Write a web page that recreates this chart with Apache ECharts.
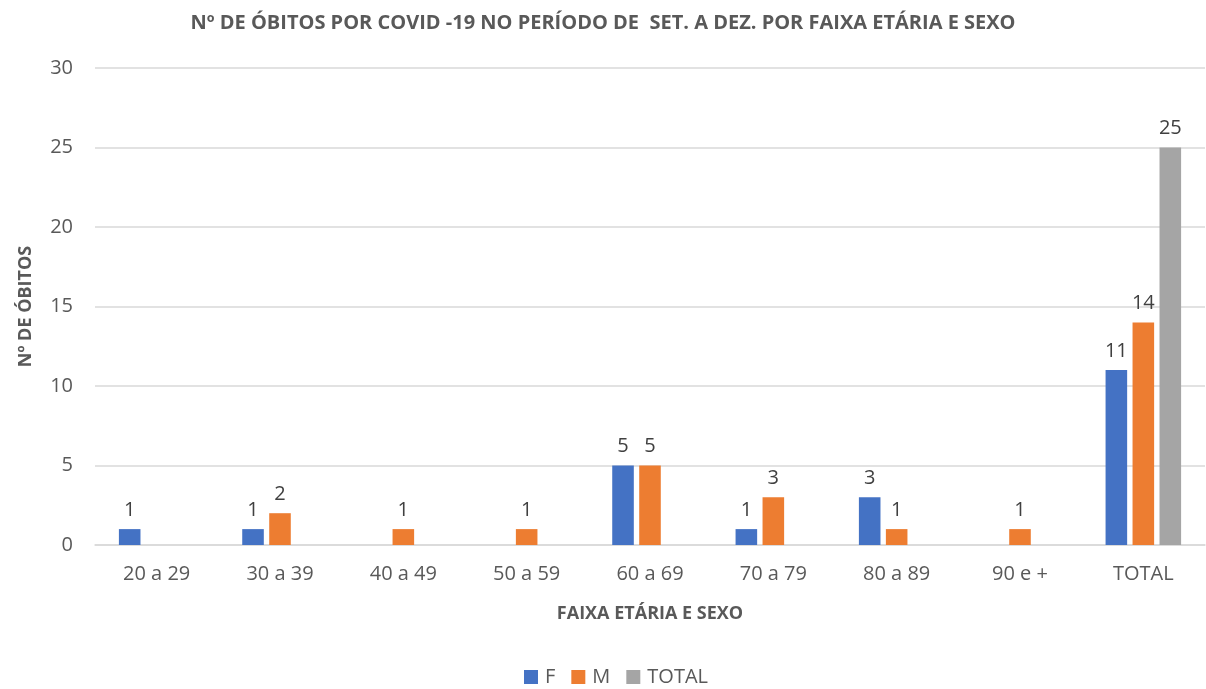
<!DOCTYPE html>
<html>
<head>
<meta charset="utf-8">
<script src="https://cdn.jsdelivr.net/npm/echarts@6/dist/echarts.min.js"></script>
<style>
  html, body { margin: 0; padding: 0; background: #fff; }
  #chart { width: 1206px; height: 689px; }
</style>
</head>
<body>
<div id="chart"></div>
<script>
const categories = ['20 a 29', '30 a 39', '40 a 49', '50 a 59', '60 a 69', '70 a 79', '80 a 89', '90 e +', 'TOTAL']
const femValues = [1, 1, null, null, 5, 1, 3, null, 11]
const mascValues = [null, 2, 1, 1, 5, 3, 1, 1, 14]
const totalValues = [null, null, null, null, null, null, null, null, 25]
const yTicks = { min: 0, max: 30, interval: 5 }

const font = '"Open Sans", "Liberation Sans", sans-serif'
const labelStyle = {
    show: true,
    position: 'top',
    distance: 9,
    color: '#404040',
    fontSize: 20,
    fontFamily: font
}

var myChart = echarts.init(document.getElementById('chart'))
var option = {
    animation: false,
    title: {
        text: 'Nº DE ÓBITOS POR COVID -19 NO PERÍODO DE  SET. A DEZ. POR FAIXA ETÁRIA E SEXO',
        left: 'center',
        top: 8,
        textStyle: {
            color: '#595959',
            fontSize: 20,
            fontWeight: 'bold',
            fontFamily: font
        }
    },
    legend: {
        bottom: -3,
        left: 519,
        itemWidth: 14,
        itemHeight: 14,
        itemGap: 16,
        icon: 'rect',
        textStyle: { color: '#595959', fontSize: 20, fontFamily: font, padding: [0, 0, 0, 2] },
        data: ['F', 'M', 'TOTAL']
    },
    grid: {
        left: 95,
        right: 1,
        top: 68,
        bottom: 144,
        containLabel: false
    },
    xAxis: {
        type: 'category',
        data: categories,
        name: 'FAIXA ETÁRIA E SEXO',
        nameLocation: 'middle',
        nameGap: 60,
        nameTextStyle: { color: '#595959', fontSize: 18, fontWeight: 'bold', fontFamily: font },
        axisLine: { lineStyle: { color: '#d9d9d9', width: 1.5 } },
        axisTick: { show: false },
        axisLabel: { color: '#595959', fontSize: 20, fontFamily: font, margin: 19 }
    },
    yAxis: {
        type: 'value',
        min: yTicks.min,
        max: yTicks.max,
        interval: yTicks.interval,
        name: 'Nº DE ÓBITOS',
        nameLocation: 'middle',
        nameGap: 60,
        nameTextStyle: { color: '#595959', fontSize: 18, fontWeight: 'bold', fontFamily: font },
        axisLine: { show: false },
        axisTick: { show: false },
        splitLine: { lineStyle: { color: '#d9d9d9', width: 1.5 } },
        axisLabel: { color: '#595959', fontSize: 20, fontFamily: font, margin: 22 }
    },
    series: [{
        name: 'F',
        type: 'bar',
        data: femValues,
        barWidth: '17.5%',
        barGap: '25%',
        itemStyle: { color: '#4472C4' },
        label: labelStyle
    }, {
        name: 'M',
        type: 'bar',
        data: mascValues,
        barWidth: '17.5%',
        barGap: '25%',
        itemStyle: { color: '#ED7D31' },
        label: labelStyle
    }, {
        name: 'TOTAL',
        type: 'bar',
        data: totalValues,
        barWidth: '17.5%',
        barGap: '25%',
        itemStyle: { color: '#A5A5A5' },
        label: labelStyle
    }]
}
myChart.setOption(option)
</script>
</body>
</html>
